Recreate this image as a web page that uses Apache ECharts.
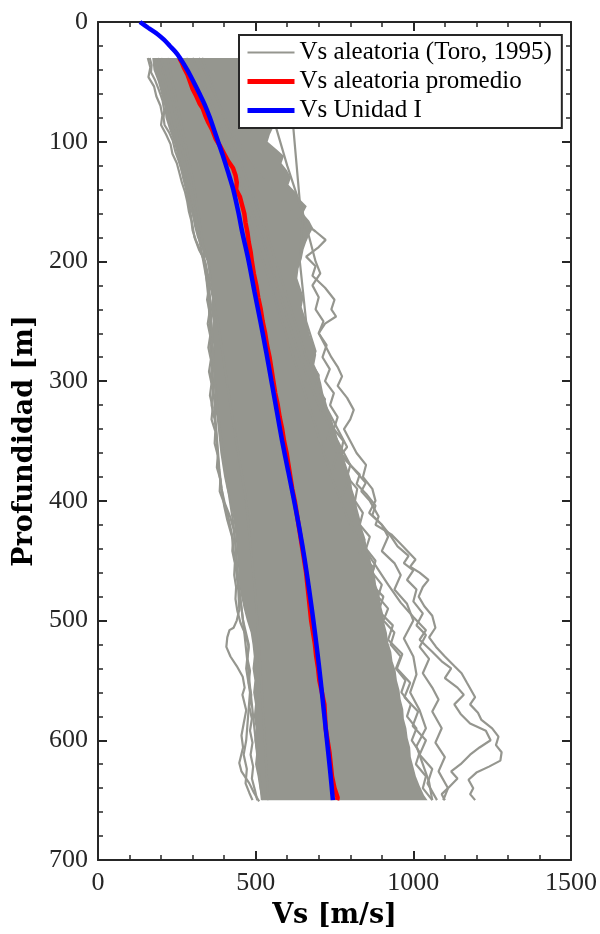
<!DOCTYPE html>
<html>
<head>
<meta charset="utf-8">
<script src="https://cdn.jsdelivr.net/npm/echarts@6/dist/echarts.min.js"></script>
<style>
  html, body { margin: 0; padding: 0; background: #fff; }
  #chart { width: 600px; height: 934px; }
</style>
</head>
<body>
<div id="chart"></div>
<script>
// depth in m (y), Vs in m/s (x); every point is [Vs, depth]

// dense core of the random profiles (left / right envelope)
const bandLeft = [[172,30],[176,40],[190,50],[200,60],[210,70],[214,80],[226,90],[240,100],[250,110],[262,120],[272,130],[282,140],[290,150],[298,160],[304,170],[314,180],[330,190],[345,200],[352,210],[358,220],[362,230],[358,240],[364,250],[360,260],[366,270],[362,280],[368,290],[366,300],[370,310],[368,320],[376,330],[380,340],[384,350],[388,360],[394,370],[400,380],[408,390],[418,400],[426,410],[432,420],[436,430],[440,440],[442,450],[446,460],[448,470],[454,480],[462,490],[472,500],[484,510],[490,520],[494,530],[490,540],[496,550],[492,560],[498,570],[494,580],[500,590],[496,600],[502,610],[498,620],[506,630],[512,640],[520,650]];
const bandRight = [[520,30],[530,40],[535,50],[540,60],[545,70],[550,80],[556,88],[545,94],[538,100],[565,106],[590,112],[582,118],[600,124],[612,130],[604,136],[626,142],[640,148],[662,154],[650,160],[670,166],[682,172],[670,178],[660,184],[652,190],[646,198],[636,206],[632,214],[642,222],[652,230],[646,238],[656,246],[664,254],[672,262],[684,270],[692,278],[686,286],[700,294],[708,302],[714,310],[724,318],[732,326],[744,334],[754,342],[762,350],[774,358],[782,366],[792,374],[802,382],[806,390],[816,398],[822,406],[830,414],[836,422],[846,430],[852,438],[862,446],[868,454],[878,462],[882,470],[892,478],[896,486],[904,494],[908,502],[916,510],[920,518],[930,526],[934,534],[944,542],[948,550],[956,558],[960,566],[968,574],[970,582],[978,590],[982,598],[990,606],[992,614],[1000,622],[1008,630],[1020,638],[1034,646],[1045,650]];

// single profiles that stick out of the core
const grayR1 = [[300,30],[380,80],[450,130],[520,180],[580,230],[640,280],[700,320],[760,350],[800,370],[849,385],[835,392],[862,400],[890,413],[880,420],[930,428],[960,436],[1007,449],[990,455],[1020,460],[1048,466],[1030,472],[1017,480],[1035,488],[1060,496],[1070,506],[1050,514],[1072,522],[1100,530],[1130,538],[1153,544],[1170,552],[1196,564],[1180,570],[1205,577],[1216,583],[1250,590],[1270,597],[1262,604],[1280,610],[1276,617],[1240,622],[1200,627],[1175,633],[1190,640],[1180,645],[1196,650]];
const grayR2 = [[280,30],[370,80],[440,130],[500,180],[560,230],[620,280],[680,330],[740,380],[800,420],[870,450],[920,470],[960,485],[1000,497],[1040,508],[1020,516],[1060,526],[1090,534],[1120,540],[1100,548],[1140,556],[1160,562],[1130,570],[1150,578],[1180,586],[1230,592],[1245,600],[1210,606],[1180,612],[1150,620],[1120,626],[1140,632],[1110,640],[1090,645],[1100,650]];
const grayR3 = [[330,30],[400,80],[470,130],[540,180],[600,230],[660,280],[720,320],[760,340],[790,355],[770,362],[800,370],[830,378],[820,386],[850,394],[880,404],[870,412],[900,420],[930,430],[950,438],[985,446],[970,452],[1000,458],[980,466],[1010,474],[1000,484],[1030,494],[1010,504],[1040,512],[1020,522],[1050,532],[1030,544],[1060,556],[1080,566],[1060,576],[1090,590],[1070,602],[1100,614],[1080,626],[1110,640],[1095,650]];
const grayR4 = [[320,30],[420,90],[520,130],[590,150],[640,165],[690,175],[722,182],[700,188],[660,196],[690,204],[680,212],[720,222],[750,232],[740,240],[755,246],[720,252],[700,260],[720,270],[740,280],[760,288],[774,296],[760,304],[790,314],[811,324],[800,332],[780,340],[800,350],[820,360],[850,370],[840,380],[870,390],[880,400],[860,410],[900,420],[920,430],[900,442],[940,452],[960,462],[940,474],[980,486],[1000,500],[970,515],[1000,530],[1010,545],[990,560],[1020,575],[1040,590],[1010,605],[1030,620],[1050,635],[1060,650]];
const grayR5 = [[600,30],[640,150],[690,200],[705,210],[680,220],[700,230],[690,240],[715,250],[700,260],[725,270],[712,280],[735,290],[720,300],[748,310],[736,320],[760,330],[748,340],[778,350],[770,360],[800,370],[790,380],[822,390],[815,400],[840,410],[830,420],[862,430],[850,440],[880,450],[870,460],[900,470],[888,480],[920,490],[905,500],[940,510],[928,520],[960,530],[945,540],[975,550],[962,560],[992,570],[980,580],[1010,590],[995,600],[1020,610],[1008,620],[1040,630],[1030,640],[1060,650]];
const grayR6 = [[500,30],[600,120],[650,160],[640,200],[660,250],[690,275],[675,285],[700,295],[690,305],[720,315],[705,325],[740,338],[728,348],[760,360],[745,372],[790,385],[775,396],[815,408],[800,420],[845,432],[830,444],[875,456],[860,468],[905,480],[890,492],[935,504],[920,516],[965,528],[948,540],[990,552],[972,564],[1015,576],[998,588],[1040,600],[1020,612],[1060,624],[1045,636],[1075,650]];
const grayL1 = [[220,30],[260,80],[300,130],[330,180],[350,230],[360,280],[372,330],[385,374],[392,390],[400,404],[410,416],[425,430],[438,458],[445,475],[448,491],[440,500],[430,506],[417,508],[410,514],[407,522],[420,530],[440,538],[459,547],[465,556],[458,562],[470,575],[462,586],[455,596],[460,606],[448,619],[455,626],[470,632],[480,636],[495,644],[511,651]];
const grayL2 = [[200,30],[240,70],[270,110],[300,150],[325,180],[338,190],[350,200],[356,212],[352,224],[358,236],[354,248],[360,260],[356,272],[362,284],[358,296],[364,308],[360,320],[370,332],[375,344],[378,356],[382,368],[385,378],[392,390],[402,402],[420,414],[430,424],[436,436],[440,450],[446,470],[460,500],[480,550],[500,600],[520,650]];
const grayL3 = [[164,30],[170,36],[168,42],[180,48],[192,56],[200,62],[205,66],[210,74],[208,80],[211,86],[225,92],[237,99],[245,108],[256,116],[268,126],[278,136],[290,154],[296,164],[306,180],[320,190],[340,200],[380,250],[420,320],[470,400],[500,480],[520,560],[540,650]];
const grayL4 = [[190,30],[230,80],[270,130],[320,180],[355,230],[370,300],[395,360],[430,420],[446,470],[460,500],[478,520],[470,540],[482,560],[476,580],[470,600],[462,612],[472,624],[468,636],[480,644],[490,650]];
const grayL5 = [[158,30],[166,38],[160,46],[178,54],[185,62],[198,70],[204,78],[200,86],[216,94],[230,102],[236,110],[250,118],[258,126],[266,134],[276,142],[283,150],[288,158],[296,166],[300,174],[310,182],[326,192],[340,202],[345,212],[352,222],[346,232],[354,242],[348,252],[356,262],[350,272],[358,282],[352,292],[360,302],[355,312],[364,322],[360,332],[372,342],[370,352],[380,362],[377,372],[388,382],[386,392],[400,402],[412,412],[420,422],[428,432],[426,442],[434,452],[432,462],[438,472],[436,482],[442,492],[452,502],[468,512],[478,522],[474,532],[482,542],[478,552],[486,562],[480,572],[488,582],[482,592],[490,602],[484,612],[492,622],[488,632],[498,642],[505,650]];
const grayLines = [grayR1, grayR2, grayR3, grayR4, grayR5, grayR6, grayL1, grayL2, grayL3, grayL4, grayL5];

// mean of the random profiles
const vsMean = [[258,30],[266,34],[272,38],[284,44],[292,50],[300,56],[312,62],[322,68],[332,72],[340,78],[350,84],[362,90],[374,98],[388,104],[400,110],[412,116],[428,122],[436,128],[440,134],[438,140],[450,146],[456,152],[464,160],[468,168],[474,176],[478,184],[484,192],[488,200],[494,210],[502,220],[508,230],[516,240],[522,250],[530,260],[536,270],[544,280],[550,290],[556,300],[562,310],[570,320],[576,330],[584,340],[590,350],[598,360],[604,370],[610,380],[616,390],[624,400],[630,410],[636,420],[642,430],[648,440],[654,450],[660,460],[664,470],[668,480],[672,490],[676,500],[682,510],[688,520],[692,530],[698,540],[702,550],[710,560],[718,570],[720,580],[722,590],[728,600],[734,610],[738,620],[742,630],[750,640],[760,648],[758,650]];

// base profile, Unidad I
const vsUnit = [[133,0],[160,5],[188,10],[210,15],[228,20],[246,25],[260,30],[283,40],[303,50],[322,60],[340,70],[355,80],[368,90],[381,100],[394,110],[412,125],[429,140],[446,160],[457,175],[478,200],[496,225],[515,250],[533,275],[550,300],[567,325],[584,350],[603,375],[622,400],[640,425],[656,450],[670,475],[683,500],[695,525],[706,550],[716,575],[726,600],[736,625],[745,650]];

const names = ['Vs aleatoria (Toro, 1995)', 'Vs aleatoria promedio', 'Vs Unidad I'];

const AX = '#262626';
const GRAY = '#95968f';
const SERIF = 'Liberation Serif';

function axisStyle(pos, showLabel) {
  return {
    position: pos,
    axisLine: { show: true, onZero: false, lineStyle: { color: AX, width: 2 } },
    axisTick: { show: true, inside: true, length: 9, lineStyle: { color: AX, width: 2 } },
    minorTick: { show: true, splitNumber: 5, length: 5, lineStyle: { color: AX, width: 1.5 } },
    splitLine: { show: false },
    axisLabel: {
      show: showLabel, color: AX, fontFamily: SERIF, fontSize: 26, margin: 10,
      formatter: function (v) { return String(v); }
    }
  };
}

const chart = echarts.init(document.getElementById('chart'));

const series = [{
  type: 'custom',
  name: 'core',
  silent: true,
  z: 1,
  clip: true,
  data: [[0, 0]],
  renderItem: function (params, api) {
    const pts = bandLeft.concat(bandRight.slice().reverse()).map(function (p) { return api.coord(p); });
    return { type: 'polygon', shape: { points: pts }, style: { fill: GRAY } };
  }
}];

grayLines.forEach(function (d) {
  series.push({
    type: 'line', name: names[0], data: d, symbol: 'none', silent: true, z: 2,
    lineStyle: { color: GRAY, width: 2.2 }, itemStyle: { color: GRAY }
  });
});

series.push({
  type: 'line', name: names[1], data: vsMean, symbol: 'none', z: 3,
  lineStyle: { color: '#ff0000', width: 4.5 }, itemStyle: { color: '#ff0000' }
});
series.push({
  type: 'line', name: names[2], data: vsUnit, symbol: 'none', z: 4, smooth: 0.3,
  lineStyle: { color: '#0000ff', width: 4.5 }, itemStyle: { color: '#0000ff' }
});

chart.setOption({
  animation: false,
  backgroundColor: '#fff',
  grid: { left: 98, right: 27, top: 22, bottom: 74 },
  legend: {
    data: [
      { name: names[0], lineStyle: { width: 2 }, itemStyle: { opacity: 0 } },
      { name: names[1], lineStyle: { width: 5 }, itemStyle: { opacity: 0 } },
      { name: names[2], lineStyle: { width: 5 }, itemStyle: { opacity: 0 } }
    ],
    orient: 'vertical',
    left: 239, top: 35,
    itemWidth: 47, itemHeight: 14, itemGap: 4,
    padding: [5, 10, 5, 6],
    backgroundColor: '#fff',
    borderColor: AX, borderWidth: 2, borderRadius: 0,
    z: 10,
    textStyle: { fontFamily: SERIF, fontSize: 25, color: '#000' }
  },
  xAxis: [
    Object.assign(axisStyle('bottom', true), {
      type: 'value', min: 0, max: 1500, interval: 500,
      name: 'Vs [m/s]', nameLocation: 'middle', nameGap: 42,
      nameTextStyle: { fontFamily: 'DejaVu Serif', fontWeight: 'bold', fontSize: 27, color: '#000' }
    }),
    Object.assign(axisStyle('top', false), { type: 'value', min: 0, max: 1500, interval: 500 })
  ],
  yAxis: [
    Object.assign(axisStyle('left', true), {
      type: 'value', min: 0, max: 700, interval: 100, inverse: true,
      name: 'Profundidad [m]', nameLocation: 'middle', nameGap: 56,
      nameTextStyle: { fontFamily: 'DejaVu Serif', fontWeight: 'bold', fontSize: 27, color: '#000' }
    }),
    Object.assign(axisStyle('right', false), { type: 'value', min: 0, max: 700, interval: 100, inverse: true })
  ],
  series: series
});
</script>
</body>
</html>
